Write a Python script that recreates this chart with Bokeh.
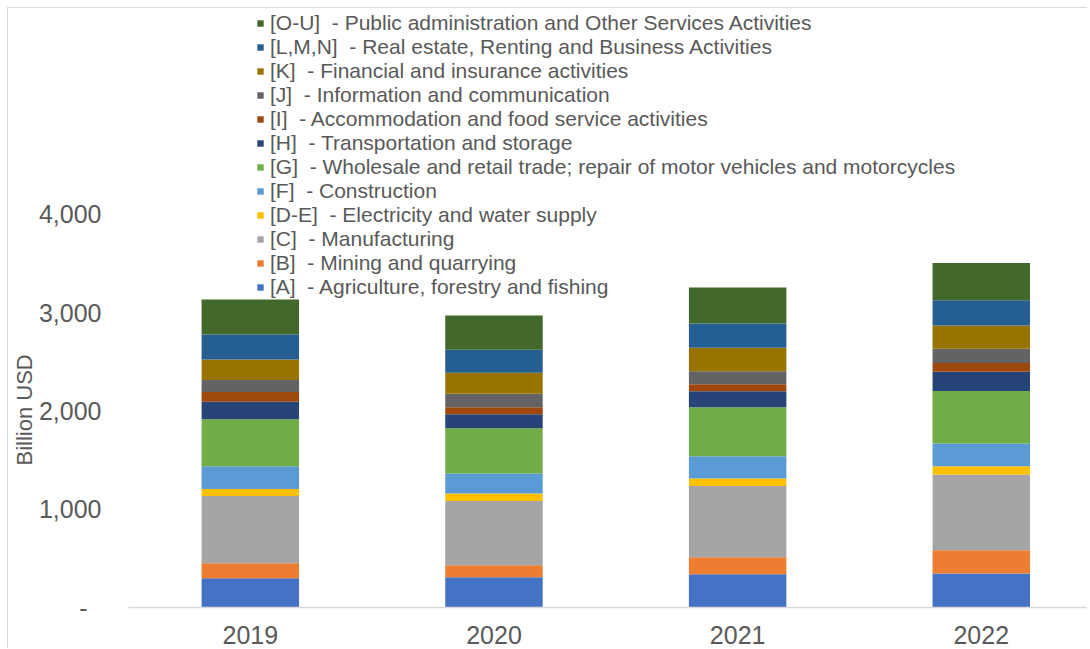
from bokeh.plotting import figure
from bokeh.models import (ColumnDataSource, Range1d, FixedTicker, Legend, LegendItem, Title)
from bokeh.embed import file_html
from bokeh.resources import INLINE

years = ["2019", "2020", "2021", "2022"]

sec_A = [298, 308, 339, 346]
sec_B = [153, 122, 173, 237]
sec_C = [684, 654, 725, 770]
sec_DE = [71, 76, 75, 84]
sec_F = [231, 203, 227, 231]
sec_G = [479, 461, 499, 535]
sec_H = [176, 142, 162, 194]
sec_I = [101, 72, 72, 91]
sec_J = [122, 135, 132, 143]
sec_K = [208, 214, 237, 238]
sec_LMN = [254, 234, 248, 257]
sec_OU = [356, 349, 366, 377]

keys = ["A", "B", "C", "DE", "F", "G", "H", "I", "J", "K", "LMN", "OU"]
labels = [
    "[A]  - Agriculture, forestry and fishing",
    "[B]  - Mining and quarrying",
    "[C]  - Manufacturing",
    "[D-E]  - Electricity and water supply",
    "[F]  - Construction",
    "[G]  - Wholesale and retail trade; repair of motor vehicles and motorcycles",
    "[H]  - Transportation and storage",
    "[I]  - Accommodation and food service activities",
    "[J]  - Information and communication",
    "[K]  - Financial and insurance activities",
    "[L,M,N]  - Real estate, Renting and Business Activities",
    "[O-U]  - Public administration and Other Services Activities",
]
colors = ["#4472C4", "#ED7D31", "#A5A5A5", "#FFC000", "#5B9BD5", "#70AD47",
          "#264478", "#9E480E", "#636363", "#997300", "#255E91", "#43682B"]

y_ticks = [0, 1000, 2000, 3000, 4000]

data = dict(x=list(range(len(years))), A=sec_A, B=sec_B, C=sec_C, DE=sec_DE, F=sec_F,
            G=sec_G, H=sec_H, I=sec_I, J=sec_J, K=sec_K, LMN=sec_LMN, OU=sec_OU)
source = ColumnDataSource(data)

FONT = "Liberation Sans"
GRAY = "#595959"

p = figure(width=1080, height=641, output_backend="svg", toolbar_location=None,
           x_range=Range1d(-0.5, 3.44), y_range=Range1d(0, 6093),
           min_border_left=120, min_border_right=0, min_border_top=0, min_border_bottom=42,
           styles={"margin-left": "7px", "margin-top": "7px",
                   "border-left": "1px solid #d9d9d9", "border-top": "1px solid #d9d9d9"})
p.outline_line_color = None
p.xgrid.visible = False
p.ygrid.visible = False
p.background_fill_color = "white"
p.border_fill_color = "white"

renderers = p.vbar_stack(keys, x="x", width=0.4, color=colors, source=source, line_width=0)

# x axis
p.xaxis.ticker = FixedTicker(ticks=list(range(len(years))))
p.xaxis.major_label_overrides = {i: y for i, y in enumerate(years)}
p.xaxis.axis_line_color = "#d9d9d9"
p.xaxis.axis_line_width = 1.5
p.xaxis.major_tick_line_color = None
p.xaxis.minor_tick_line_color = None
p.xaxis.major_label_text_font = FONT
p.xaxis.major_label_text_font_size = "25px"
p.xaxis.major_label_text_color = GRAY
p.xaxis.major_label_standoff = 12

# y axis
p.yaxis.ticker = FixedTicker(ticks=y_ticks)
p.yaxis.major_label_overrides = {t: ("-\u00a0\u00a0" if t == 0 else f"{t:,}") for t in y_ticks}
p.yaxis.axis_line_color = None
p.yaxis.major_tick_line_color = None
p.yaxis.minor_tick_line_color = None
p.yaxis.major_tick_out = 0
p.yaxis.major_label_text_font = FONT
p.yaxis.major_label_text_font_size = "25px"
p.yaxis.major_label_text_color = GRAY
p.yaxis.major_label_standoff = 27

# y axis title, placed like the reference (lower than the frame centre)
p.add_layout(Title(text="Billion USD", align="left", offset=142, vertical_align="middle",
                   standoff=-5, text_font=FONT, text_font_size="22px",
                   text_line_height=1.0,
                   text_font_style="normal", text_color=GRAY), "left")

items = [LegendItem(label=labels[i], renderers=[renderers[i]]) for i in range(len(keys) - 1, -1, -1)]
legend = Legend(items=items, location=(128, 308), padding=0, margin=0, spacing=0,
                glyph_width=8, glyph_height=8, label_standoff=6,
                label_text_font=FONT, label_text_font_size="21px", label_text_color=GRAY,
                label_height=23, border_line_color=None, background_fill_alpha=0)
p.add_layout(legend, "center")

open("out.html", "w").write(file_html(p, INLINE))
